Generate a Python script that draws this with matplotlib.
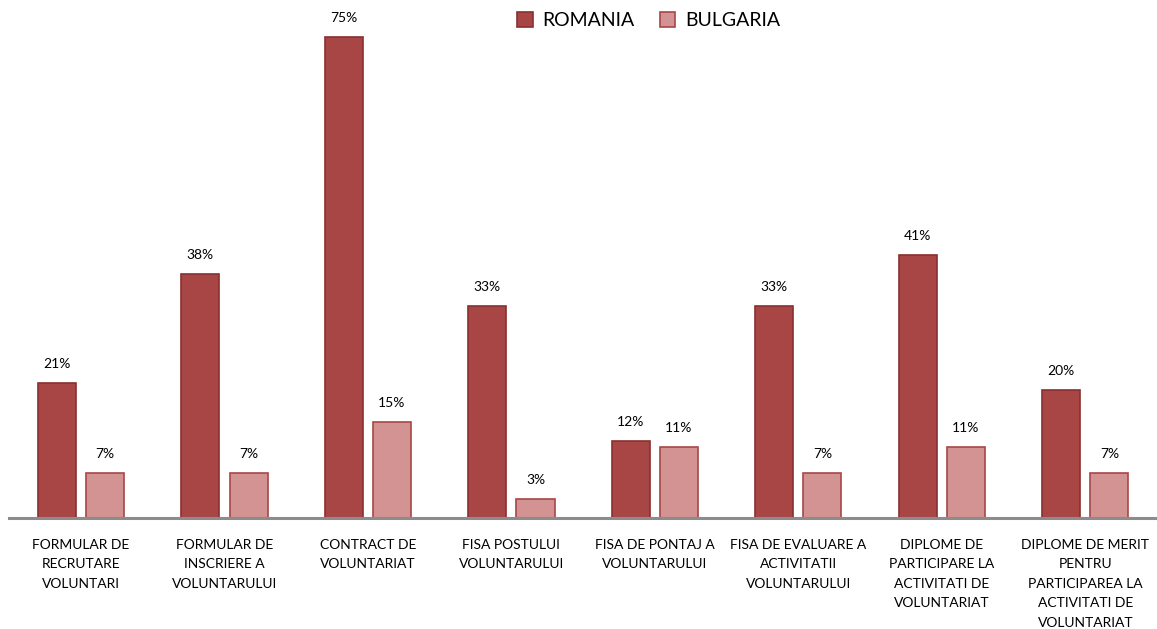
import matplotlib.pyplot as plt
import numpy as np

CATEGORIES = [
    "FORMULAR DE\nRECRUTARE\nVOLUNTARI",
    "FORMULAR DE\nINSCRIERE A\nVOLUNTARULUI",
    "CONTRACT DE\nVOLUNTARIAT",
    "FISA POSTULUI\nVOLUNTARULUI",
    "FISA DE PONTAJ A\nVOLUNTARULUI",
    "FISA DE EVALUARE A\nACTIVITATII\nVOLUNTARULUI",
    "DIPLOME DE\nPARTICIPARE LA\nACTIVITATI DE\nVOLUNTARIAT",
    "DIPLOME DE MERIT\nPENTRU\nPARTICIPAREA LA\nACTIVITATI DE\nVOLUNTARIAT",
]
ROMANIA = [21, 38, 75, 33, 12, 33, 41, 20]
BULGARIA = [7, 7, 15, 3, 11, 7, 11, 7]

plt.rcParams["font.family"] = ["Lato", "DejaVu Sans"]

fig = plt.figure(figsize=(11.57, 6.29), dpi=100)
ax = fig.add_axes([0.008, 0.1765, 0.992, 0.8156])

x = np.arange(len(CATEGORIES))
w = 0.265
off = 0.168
b1 = ax.bar(x - off, ROMANIA, w, color="#A84646", edgecolor="#8A2F2F",
            linewidth=1.2, label="ROMANIA")
b2 = ax.bar(x + off, BULGARIA, w, color="#D29392", edgecolor="#A84646",
            linewidth=1.2, label="BULGARIA")

for bars in (b1, b2):
    for rect in bars:
        h = rect.get_height()
        ax.annotate(f"{h:.0f}%", (rect.get_x() + rect.get_width() / 2, h),
                    xytext=(0, 9.5), textcoords="offset points",
                    ha="center", va="bottom", fontsize=10)

ax.set_xlim(-0.5, len(CATEGORIES) - 0.5)
ax.set_ylim(0, 80)
ax.set_xticks(x)
ax.set_xticklabels(CATEGORIES, fontsize=10, linespacing=1.75, va="top")
ax.tick_params(axis="x", length=0, pad=15)
ax.set_yticks([])
for side in ("top", "right", "left"):
    ax.spines[side].set_visible(False)
ax.spines["bottom"].set_color("#8C8C8C")
ax.spines["bottom"].set_linewidth(2.2)

ax.legend(loc="upper center", bbox_to_anchor=(0.557, 1.02), ncol=2,
          frameon=False, fontsize=14, handlelength=0.8, handleheight=0.8,
          columnspacing=1.3, handletextpad=0.5)

fig.savefig("out.png", dpi=100)
